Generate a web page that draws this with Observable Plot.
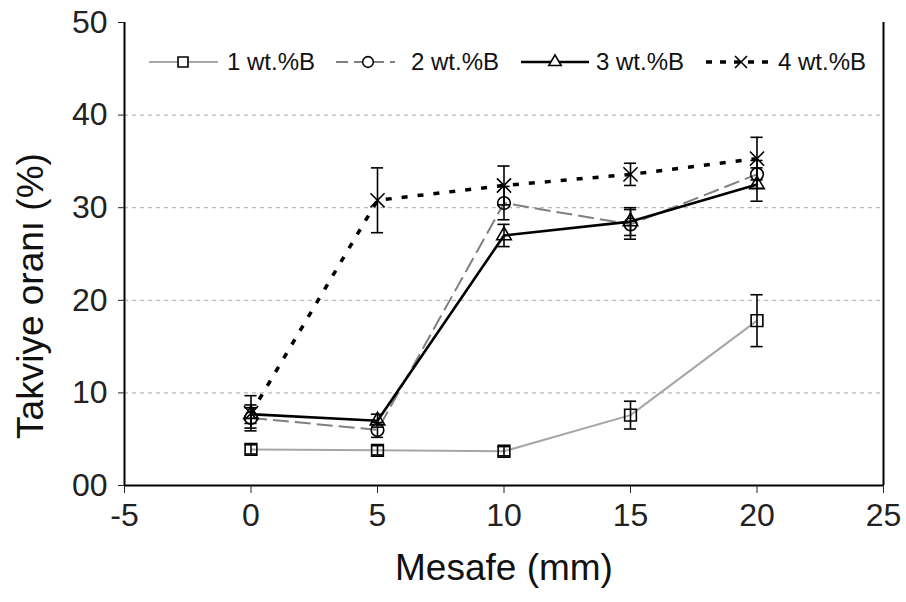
<!DOCTYPE html>
<html>
<head>
<meta charset="utf-8">
<script src="https://cdn.jsdelivr.net/npm/d3@7"></script>
<script src="https://cdn.jsdelivr.net/npm/@observablehq/plot@0.6"></script>
<style>
  html, body { margin: 0; padding: 0; background: #fff; }
  #wrap { position: relative; width: 906px; height: 602px; font-family: Arial, "Liberation Sans", sans-serif; }
  #legend { position: absolute; left: 0; top: 0; width: 906px; height: 602px; pointer-events: none; }
</style>
</head>
<body>
<div id="wrap"><div id="chart"></div><svg id="legend" width="906" height="602"></svg></div>
<script>
// ---- data ----
const distances = [0, 5, 10, 15, 20];
const seriesNames = ["1 wt.%B", "2 wt.%B", "3 wt.%B", "4 wt.%B"];
const s1 = [3.9, 3.8, 3.7, 7.6, 17.8];
const s1err = [0.5, 0.5, 0.5, 1.5, 2.8];
const s2 = [7.3, 6.0, 30.5, 28.2, 33.6];
const s2err = [1.1, 0.8, 1.8, 1.6, 1.5];
const s3 = [7.7, 7.0, 27.0, 28.5, 32.5];
const s3err = [1.0, 0.7, 1.2, 1.5, 1.8];
const s4 = [7.8, 30.8, 32.4, 33.6, 35.3];
const s4err = [1.9, 3.5, 2.1, 1.2, 2.3];
const xTicks = [-5, 0, 5, 10, 15, 20, 25];
const yTicks = [0, 10, 20, 30, 40, 50];
const yTickLabels = ["00", "10", "20", "30", "40", "50"];
const gridValues = [10, 20, 30, 40];
const xTitle = "Mesafe (mm)";
const yTitle = "Takviye oranı (%)";

// ---- styles per series ----
const styles = [
  {stroke: "#a6a6a6", width: 2, dash: null, symbol: "square", r: 6.6},
  {stroke: "#808080", width: 2, dash: "16,6", symbol: "circle", r: 6.3},
  {stroke: "#000", width: 2.6, dash: null, symbol: "triangle", r: 5.4},
  {stroke: "#000", width: 3.5, dash: "6,10", symbol: "times", r: 6.5}
];

const allVals = [s1, s2, s3, s4];
const allErr = [s1err, s2err, s3err, s4err];
const rows = [];
allVals.forEach((vals, si) => {
  vals.forEach((v, i) => rows.push({series: seriesNames[si], si, x: distances[i], y: v, e: allErr[si][i]}));
});

const capHalf = 0.24;
const marks = [
  Plot.ruleY(gridValues, {stroke: "#b8b8b8", strokeDasharray: "4,4", strokeWidth: 1.2}),
];
styles.forEach((st, si) => {
  const d = rows.filter(r => r.si === si);
  marks.push(Plot.line(d, {x: "x", y: "y", stroke: st.stroke, strokeWidth: st.width,
    strokeDasharray: st.dash, strokeLinecap: "butt"}));
});
// error bars
marks.push(Plot.ruleX(rows, {x: "x", y1: d => d.y - d.e, y2: d => d.y + d.e, stroke: "#000", strokeWidth: 1.6}));
marks.push(Plot.ruleY(rows, {y: d => d.y - d.e, x1: d => d.x - capHalf, x2: d => d.x + capHalf, stroke: "#000", strokeWidth: 1.6}));
marks.push(Plot.ruleY(rows, {y: d => d.y + d.e, x1: d => d.x - capHalf, x2: d => d.x + capHalf, stroke: "#000", strokeWidth: 1.6}));
// markers
styles.forEach((st, si) => {
  const d = rows.filter(r => r.si === si);
  marks.push(Plot.dot(d, {x: "x", y: "y", symbol: () => st.symbol, r: st.r, stroke: "#000", fill: "none", strokeWidth: 1.6}));
});
// frame lines
marks.push(Plot.ruleX([-5, 25], {stroke: "#000", strokeWidth: 2}));
marks.push(Plot.ruleY([0], {stroke: "#000", strokeWidth: 2}));
// axes
marks.push(Plot.axisX({ticks: xTicks, tickSize: 8, tickPadding: 10, fontSize: 32, label: null, tickFormat: d => d < 0 ? "-" + Math.abs(d) : String(d)}));
marks.push(Plot.axisY({ticks: yTicks, tickSize: 6, tickPadding: 11, fontSize: 32, label: null, tickFormat: d => yTickLabels[yTicks.indexOf(d)]}));
// titles
marks.push(Plot.text([yTitle], {frameAnchor: "left", textAnchor: "middle", rotate: -90, dx: -93, dy: 42, fontSize: 37, fill: "#111"}));
marks.push(Plot.text([xTitle], {frameAnchor: "bottom", textAnchor: "middle", dy: 94, fontSize: 37, fill: "#111"}));

const chart = Plot.plot({
  width: 906,
  height: 602,
  marginLeft: 124,
  marginRight: 23,
  marginTop: 22,
  marginBottom: 117,
  x: {domain: [-5, 25]},
  y: {domain: [0, 50]},
  style: {fontFamily: "Arial, 'Liberation Sans', sans-serif", color: "#222", background: "#fff", overflow: "visible"},
  marks
});
document.getElementById("chart").appendChild(chart);

// ---- legend (inside plot area, top) ----
const legendItems = [
  {x0: 149, x1: 218, mx: 183, tx: 227},
  {x0: 336, x1: 395, mx: 368, tx: 411},
  {x0: 521, x1: 589, mx: 555, tx: 596},
  {x0: 706, x1: 772, mx: 741, tx: 778}
];
const ly = 62;
const lg = d3.select("#legend");
legendItems.forEach((it, i) => {
  const st = styles[i];
  lg.append("line").attr("x1", it.x0).attr("x2", it.x1).attr("y1", ly).attr("y2", ly)
    .attr("stroke", st.stroke).attr("stroke-width", st.width)
    .attr("stroke-dasharray", st.dash ? (i === 3 ? "6,8" : "12,6") : null);
  const sym = {square: d3.symbolSquare, circle: d3.symbolCircle, triangle: d3.symbolTriangle, times: d3.symbolTimes}[st.symbol];
  const rr = st.r * 0.85;
  lg.append("path").attr("d", d3.symbol(sym, Math.PI * rr * rr)())
    .attr("transform", `translate(${it.mx},${ly})`)
    .attr("fill", i === 3 ? "none" : "#fff").attr("stroke", "#000").attr("stroke-width", 1.6);
  lg.append("text").attr("x", it.tx).attr("y", ly).attr("dy", "0.35em")
    .attr("font-size", 24).attr("fill", "#111")
    .attr("font-family", "Arial, 'Liberation Sans', sans-serif").text(seriesNames[i]);
});
</script>
</body>
</html>
